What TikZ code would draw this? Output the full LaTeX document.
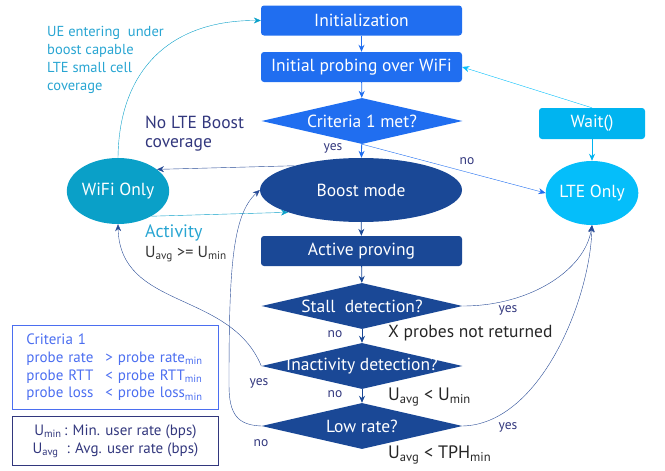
\documentclass[tikz,border=0pt]{standalone}
\usepackage{fontspec}
\setmainfont{PT Sans}
\usetikzlibrary{shapes.geometric,arrows.meta}
\definecolor{initblue}{RGB}{32,110,240}
\definecolor{modeblue}{RGB}{26,72,150}
\definecolor{wifiteal}{RGB}{10,160,200}
\definecolor{lteblue}{RGB}{5,190,250}
\definecolor{waitblue}{RGB}{0,180,240}
\definecolor{noteteal}{RGB}{40,165,210}
\definecolor{notenavy}{RGB}{50,55,125}
\definecolor{critblue}{RGB}{75,110,240}
\definecolor{curveblue}{RGB}{40,75,150}

\begin{document}
\begin{tikzpicture}[x=1pt, y=-1pt, >={Stealth[length=7pt,width=6pt]},
	procbox/.style={rectangle, rounded corners=3pt, minimum width=201pt, minimum height=30pt, inner sep=0pt, text=white, font=\fontsize{17.5}{20}\selectfont},
	decision/.style={diamond, aspect=4.4, inner sep=0pt, minimum width=201pt, minimum height=46pt, text=white, font=\fontsize{17.5}{20}\selectfont},
	mode/.style={ellipse, inner sep=0pt, text=white, font=\fontsize{17.5}{20}\selectfont},
	small/.style={font=\fontsize{13.5}{15}\selectfont, text=notenavy, inner sep=0pt},
	note/.style={font=\fontsize{17.5}{19}\selectfont, inner sep=0pt, align=left},
	]
	\useasboundingbox (0,0) rectangle (665,471);

	% main flow
	\node[procbox, fill=initblue] (init) at (361.5,20.5) {Initialization};
	\node[procbox, fill=initblue] (probe) at (361.5,67) {Initial probing over WiFi};
	\node[decision, fill=initblue] (crit) at (362,121) {\makebox[0pt]{Criteria 1 met?}};
	\node[mode, fill=modeblue, minimum width=202pt, minimum height=64pt] (boost) at (361,190) {Boost mode};
	\node[procbox, fill=modeblue] (active) at (361.5,251) {Active proving};
	\node[decision, fill=modeblue] (stall) at (362,306) {\makebox[0pt]{Stall\ \ detection?}};
	\node[decision, fill=modeblue] (inact) at (362,366) {\makebox[0pt]{Inactivity detection?}};
	\node[decision, fill=modeblue] (low) at (362,426) {\makebox[0pt]{Low rate?}};

	% side states
	\node[mode, fill=wifiteal, minimum width=88pt, minimum height=66pt] (wifi) at (118,191) {WiFi Only};
	\node[mode, fill=lteblue, minimum width=88pt, minimum height=64pt] (lte) at (592,193) {LTE Only};
	\node[procbox, fill=waitblue, minimum width=106pt, minimum height=31pt] (wait) at (592,123.5) {Wait()};

	% straight arrows
	\draw[->, initblue, thick] (init) -- (probe);
	\draw[->, initblue, thick] (probe) -- (crit);
	\draw[->, initblue, thick] (crit) -- (boost);
	\draw[->, modeblue, thick] (boost) -- (active);
	\draw[->, modeblue, thick] (active) -- (stall);
	\draw[->, modeblue, thick] (stall) -- (inact);
	\draw[->, modeblue, thick] (inact) -- (low);
	\draw[->, initblue] (crit.south) -- (lte.west);
	\draw[->, waitblue, thick] (wait) -- (lte);
	\draw[->, lteblue] (wait.north) -- (probe.east);
	\draw[->, curveblue] (boost.160) -- (wifi.29);
	\draw[->, wifiteal] (wifi.-37) -- (boost.197);

	% curved arrows
	\draw[->, wifiteal] (wifi.north) .. controls (119,70) and (170,20) .. (init.west);
	\draw[->, curveblue] (inact.west) .. controls (230,290) and (120,310) .. (wifi.south);
	\draw[->, curveblue] (low.west) .. controls (238,425) and (229,415) .. (229,385)
		.. controls (229,270) and (232,215) .. (boost.west);
	\draw[->, curveblue] (stall.east) .. controls (530,306) and (585,270) .. (lte.south);
	\draw[->, curveblue] (low.east) .. controls (540,424) and (590,300) .. (lte.south);

	% labels
	\node[small] (crityes) at (333,148) {yes};
	\node[small] (critno) at (467,161) {no};
	\node[small] (stallno) at (335,334) {no};
	\node[small] (inactno) at (335,394) {no};
	\node[small] (inactyes) at (259,383) {yes};
	\node[small] (lowno) at (261,443) {no};
	\node[small] (stallyes) at (508,310) {yes};
	\node[small] (lowyes) at (508,427) {yes};

	\node[note, font=\fontsize{14.5}{18}\selectfont, text=noteteal, anchor=north west] (enter) at (47,26)
		{UE entering\ \ under\\boost capable\\LTE small cell\\coverage};
	\node[note, text=notenavy, anchor=north west] (nolte) at (145,116) {No LTE Boost\\coverage};
	\node[note, font=\fontsize{18}{20}\selectfont, text=noteteal, anchor=west] (activity) at (145,233) {Activity};
	\node[note, font=\fontsize{16}{18}\selectfont, text=black!80, anchor=west] (uavgmin) at (145,254)
		{U\textsubscript{avg} >= U\textsubscript{min}};
	\node[note, text=black!85, anchor=west] (xprobes) at (388,333) {X probes not returned};
	\node[note, font=\fontsize{18}{20}\selectfont, text=black!85, anchor=west] (uavglow) at (388,397)
		{U\textsubscript{avg} < U\textsubscript{min}};
	\node[note, font=\fontsize{18}{20}\selectfont, text=black!85, anchor=west] (uavgtph) at (388,455)
		{U\textsubscript{avg} < TPH\textsubscript{min}};

	% boxes
	\node[draw=critblue, thick, anchor=north west, minimum height=84pt, inner xsep=14pt, inner ysep=0pt,
		text width=178pt, align=left, text=critblue, font=\fontsize{15}{17.7}\selectfont] (critbox) at (12,325)
		{Criteria 1\\
		\makebox[79pt][l]{probe rate}> probe rate\textsubscript{min}\\
		\makebox[79pt][l]{probe RTT}< probe RTT\textsubscript{min}\\
		\makebox[79pt][l]{probe loss}< probe loss\textsubscript{min}};
	\node[draw=notenavy, thick, anchor=north west, minimum width=206pt, minimum height=49pt, inner sep=0pt,
		text=notenavy, align=center, font=\fontsize{15}{18}\selectfont] (legend) at (12,416)
		{U\textsubscript{min}\,: Min. user rate (bps)\\U\textsubscript{avg}\ \ : Avg. user rate (bps)};
\end{tikzpicture}
\end{document}
